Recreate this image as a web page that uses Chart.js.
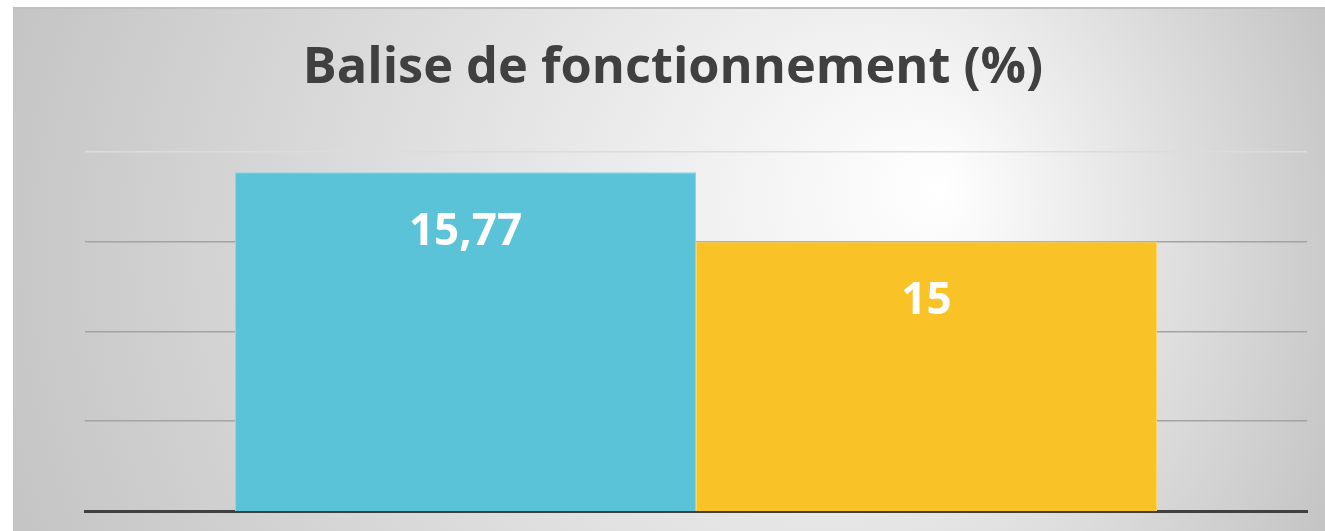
<!DOCTYPE html>
<html>
<head>
<meta charset="utf-8">
<script src="https://cdn.jsdelivr.net/npm/chart.js@4/dist/chart.umd.min.js"></script>
<style>
  html, body { margin: 0; padding: 0; background: #fff; }
  #wrap { position: absolute; left: 13px; top: 7px; width: 1312px; height: 524px; }
</style>
</head>
<body>
<div id="wrap"><canvas id="myChart"></canvas></div>
<script>
// Balise de fonctionnement, two bars side by side in one group
const categories = ['Balise'];
const seriesNames = ['Série 1', 'Série 2'];
const seriesValues = [15.77, 15];
const barColors = ['#5bc3d7', '#f9c226'];
const barEdges = ['#8fd5e3', '#fbd568'];
const yTicks = [12, 13, 14, 15, 16];

const ctx = document.getElementById('myChart');

// grey radial background behind the whole chart
const backgroundPlugin = {
    id: 'bg',
    beforeDraw(chart) {
        const c = chart.ctx;
        const w = chart.width, h = chart.height;
        const g = c.createRadialGradient(930, 180, 0, 650, 260, 720);
        g.addColorStop(0, '#ffffff');
        g.addColorStop(1, '#c3c3c3');
        c.save();
        c.fillStyle = g;
        c.fillRect(0, 0, w, h);
        c.fillStyle = '#c0c0c0';
        c.fillRect(0, 0, w, 2);
        c.restore();
    }
};

// white value labels inside the top of each bar
const labelPlugin = {
    id: 'barLabels',
    afterDatasetsDraw(chart) {
        const c = chart.ctx;
        c.save();
        c.font = 'bold 44px "Open Sans", sans-serif';
        c.fillStyle = '#ffffff';
        c.textAlign = 'center';
        c.textBaseline = 'middle';
        chart.data.datasets.forEach((ds, i) => {
            const bar = chart.getDatasetMeta(i).data[0];
            const txt = String(ds.data[0]).replace('.', ',');
            c.fillText(txt, bar.x, bar.y + 60);
        });
        c.restore();
    }
};

const chart = new Chart(ctx, {
    type: 'bar',
    data: {
        labels: categories,
        datasets: seriesNames.map((name, i) => ({
            label: name,
            data: [seriesValues[i]],
            backgroundColor: barColors[i],
            borderColor: barEdges[i],
            borderWidth: 1,
            barPercentage: 1,
            categoryPercentage: 0.7545
        }))
    },
    options: {
        responsive: true,
        maintainAspectRatio: false,
        animation: false,
        layout: { padding: { left: 26, right: 18, top: 0, bottom: 12 } },
        plugins: {
            legend: { display: false },
            tooltip: { enabled: false },
            title: {
                display: true,
                text: 'Balise de fonctionnement (%)',
                color: '#404040',
                font: { family: '"Open Sans", sans-serif', size: 50.5, weight: 'bold' },
                padding: { top: 31, bottom: 53 }
            }
        },
        scales: {
            x: {
                display: true,
                ticks: { display: false },
                grid: { display: false },
                border: { display: true, color: '#404040', width: 3 }
            },
            y: {
                min: yTicks[0],
                max: yTicks[yTicks.length - 1],
                afterBuildTicks(scale) {
                    scale.ticks = yTicks.map(v => ({ value: v }));
                },
                afterFit(scale) {
                    scale.width = 46;
                },
                ticks: { display: false },
                border: { display: false },
                grid: {
                    drawTicks: false,
                    lineWidth: 1.5,
                    color: (c) => {
                        const v = c.tick && c.tick.value;
                        if (v === 12) return 'rgba(0,0,0,0)';
                        if (v === 16) return '#dcdcdc';
                        return '#a3a3a3';
                    }
                }
            }
        }
    },
    plugins: [backgroundPlugin, labelPlugin]
});
</script>
</body>
</html>
